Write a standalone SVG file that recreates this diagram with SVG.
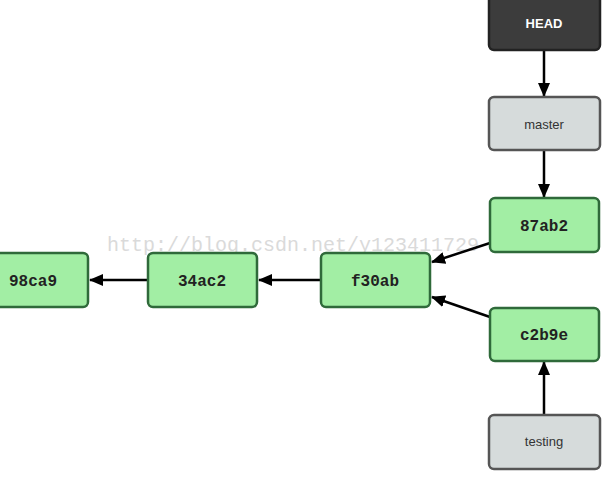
<svg xmlns="http://www.w3.org/2000/svg" width="606" height="478" viewBox="0 0 606 478">
<defs>
<marker id="ah" markerWidth="14" markerHeight="12" refX="13" refY="6" orient="auto" markerUnits="userSpaceOnUse" viewBox="0 0 14 12">
<path d="M0,0 L14,6 L0,12 z" fill="#000"/>
</marker>
<style>
.commit rect{fill:#a2eea4;stroke:#2f6a3a;stroke-width:2.5}
.commit text{font-family:"Liberation Mono",monospace;font-weight:bold;font-size:16px;fill:#222;text-anchor:middle}
.ref rect{fill:#d6dbdb;stroke:#555;stroke-width:2.5}
.ref text{font-family:"Liberation Sans",Arial,sans-serif;font-size:13px;fill:#333;text-anchor:middle}
.head rect{fill:#3c3c3c;stroke:#222;stroke-width:2.5}
.head text{font-family:"Liberation Sans",Arial,sans-serif;font-size:13px;font-weight:bold;fill:#fff;text-anchor:middle}
.conn line{stroke:#000;stroke-width:2.5;marker-end:url(#ah)}
.wm{font-family:"Liberation Mono",monospace;font-size:20px;fill:#dadada}
</style>
</defs>
<rect width="606" height="478" fill="#fff"/>
<text class="wm" x="107" y="251">http://blog.csdn.net/y123411729</text>
<g id="connectors" class="conn">
<line x1="544" y1="51" x2="544" y2="96"/>
<line x1="544" y1="151" x2="544" y2="197"/>
<line x1="544" y1="414" x2="544" y2="362"/>
<line x1="490" y1="243" x2="432" y2="262"/>
<line x1="490" y1="317" x2="432" y2="297"/>
<line x1="320" y1="280" x2="259" y2="280"/>
<line x1="147" y1="280" x2="90" y2="280"/>
</g>
<g id="HEAD" class="head"><rect x="489" y="-6" width="111" height="56" rx="5"/><text x="544" y="28">HEAD</text></g>
<g id="master" class="ref"><rect x="489" y="97" width="111" height="53" rx="5"/><text x="544" y="129">master</text></g>
<g id="c87ab2" class="commit"><rect x="490" y="198" width="109" height="54" rx="5"/><text x="544" y="231">87ab2</text></g>
<g id="cf30ab" class="commit"><rect x="321" y="253" width="109" height="54" rx="5"/><text x="375" y="286">f30ab</text></g>
<g id="c34ac2" class="commit"><rect x="148" y="253" width="109" height="54" rx="5"/><text x="202" y="286">34ac2</text></g>
<g id="c98ca9" class="commit"><rect x="-21" y="253" width="109" height="54" rx="5"/><text x="33" y="286">98ca9</text></g>
<g id="cc2b9e" class="commit"><rect x="490" y="308" width="109" height="53" rx="5"/><text x="544" y="340">c2b9e</text></g>
<g id="testing" class="ref"><rect x="489" y="415" width="111" height="54" rx="5"/><text x="544" y="446">testing</text></g>
</svg>
